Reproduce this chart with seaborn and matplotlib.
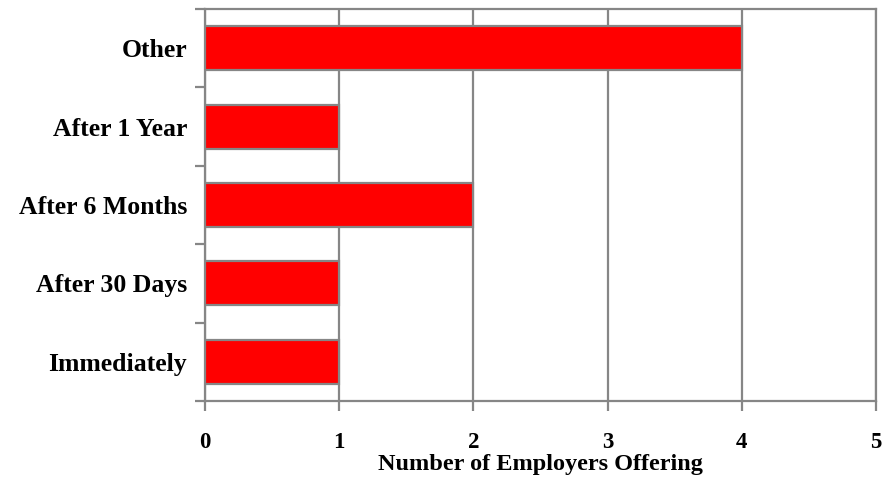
import matplotlib
matplotlib.use("Agg")
import matplotlib.pyplot as plt
import seaborn as sns
import pandas as pd
import numpy as np

# dados
categorias = ["Other", "After 1 Year", "After 6 Months", "After 30 Days", "Immediately"]
valores = [4, 1, 2, 1, 1]
xticks = [0, 1, 2, 3, 4, 5]

GRAY = "#868686"

sns.set_theme(style="white")
plt.rcParams["font.family"] = ["Liberation Serif", "DejaVu Serif"]
plt.rcParams["text.color"] = "black"

df = pd.DataFrame({"cat": categorias, "val": valores})

fig = plt.figure(figsize=(8.86, 4.91), dpi=100)
ax = fig.add_axes([205 / 886, 1 - 401 / 491, 671 / 886, 392 / 491])

sns.barplot(data=df, y="cat", x="val", order=categorias, color="#ff0000",
            saturation=1, width=0.56, edgecolor=GRAY, linewidth=1.6, ax=ax, zorder=3)

ax.set_xlim(0, 5)
ax.set_ylim(len(categorias) - 0.5, -0.5)
ax.set_xticks(xticks)
ax.set_xticklabels([str(t) for t in xticks], fontsize=16.5, fontweight="bold", color="black")
ax.set_yticks(range(len(categorias)))
ax.set_yticklabels(categorias, fontsize=18.5, fontweight="bold", color="black")
ax.set_yticks(np.arange(-0.5, len(categorias), 1), minor=True)

ax.tick_params(axis="y", which="major", left=False, length=0, pad=13)
ax.tick_params(axis="y", which="minor", left=True, length=7, width=1.6, color=GRAY, direction="out")
ax.tick_params(axis="x", which="major", bottom=True, length=7, width=1.6, color=GRAY,
               direction="out", pad=15)

ax.xaxis.grid(True, color=GRAY, linewidth=1.6, zorder=0)
ax.yaxis.grid(False)
ax.set_axisbelow(True)

for s in ax.spines.values():
    s.set_color(GRAY)
    s.set_linewidth(1.6)

ax.set_ylabel("")
ax.set_xlabel("Number of Employers Offering", fontsize=17.5, fontweight="bold",
              color="black", labelpad=1)

fig.savefig("out.png", dpi=100, facecolor="white")
